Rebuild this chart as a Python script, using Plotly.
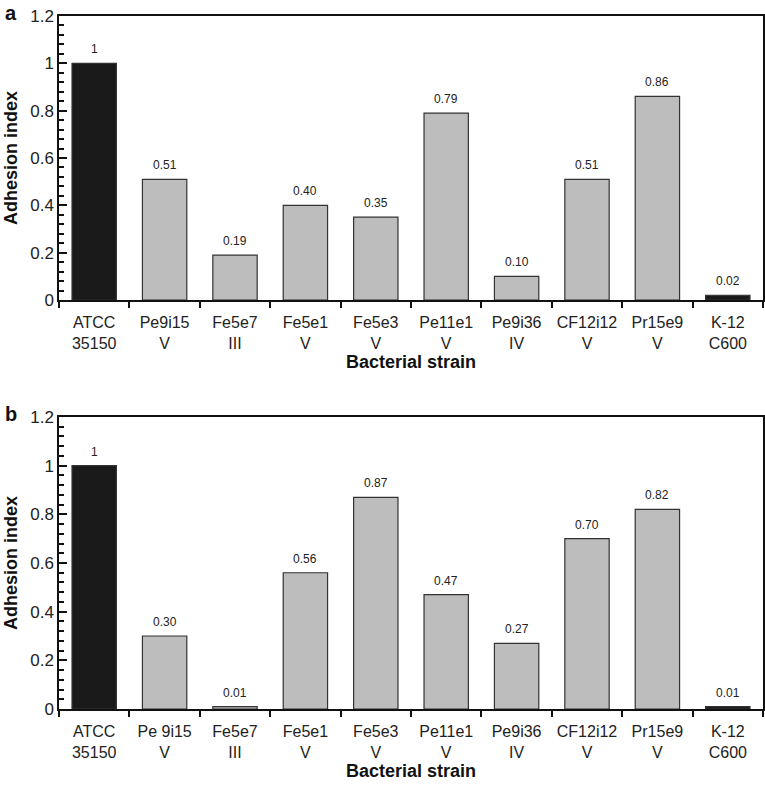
import plotly.graph_objects as go

strains_a = ["ATCC<br>35150", "Pe9i15<br>V", "Fe5e7<br>III", "Fe5e1<br>V", "Fe5e3<br>V",
             "Pe11e1<br>V", "Pe9i36<br>IV", "CF12i12<br>V", "Pr15e9<br>V", "K-12<br>C600"]
strains_b = ["ATCC<br>35150", "Pe 9i15<br>V", "Fe5e7<br>III", "Fe5e1<br>V", "Fe5e3<br>V",
             "Pe11e1<br>V", "Pe9i36<br>IV", "CF12i12<br>V", "Pr15e9<br>V", "K-12<br>C600"]
values_a = [1, 0.51, 0.19, 0.40, 0.35, 0.79, 0.10, 0.51, 0.86, 0.02]
values_b = [1, 0.30, 0.01, 0.56, 0.87, 0.47, 0.27, 0.70, 0.82, 0.01]
labels_a = ["1", "0.51", "0.19", "0.40", "0.35", "0.79", "0.10", "0.51", "0.86", "0.02"]
labels_b = ["1", "0.30", "0.01", "0.56", "0.87", "0.47", "0.27", "0.70", "0.82", "0.01"]
controls = ["ATCC<br>35150", "K-12<br>C600"]

BLACK = "#1a1a1a"
GRAY = "#bdbdbd"
FONT = "Liberation Sans, Arial, sans-serif"

def colors(cats):
    return [BLACK if c in controls else GRAY for c in cats]

fig = go.Figure()
for vals, cats, xa, ya in [(values_a, strains_a, "x", "y"), (values_b, strains_b, "x2", "y2")]:
    fig.add_trace(go.Bar(x=cats, y=vals,
                         marker=dict(color=colors(cats), line=dict(color="#333", width=1.2)),
                         width=0.63, xaxis=xa, yaxis=ya, showlegend=False, hoverinfo="y"))

for vals, labs, cats, xa, ya in [(values_a, labels_a, strains_a, "x", "y"),
                                 (values_b, labels_b, strains_b, "x2", "y2")]:
    for c, v, t in zip(cats, vals, labs):
        fig.add_annotation(x=c, y=v, xref=xa, yref=ya, text=t, showarrow=False,
                           yanchor="bottom", yshift=5, font=dict(size=12, family=FONT, color="#222"))

W, H = 765, 786
L, R, T, B = 59, 2, 16, 77
plot_h = H - T - B
plot_w = W - L - R
dom_a = [(709 - 300) / plot_h, 1]
dom_b = [0, (709 - 417) / plot_h]

def xaxis(anchor, cats):
    return dict(anchor=anchor, type="category", range=[-0.5, 9.5], automargin=False,
                showline=True, mirror=True, linecolor="#111", linewidth=1.5,
                ticks="outside", tickson="boundaries", ticklen=6, tickwidth=2, tickcolor="#111",
                ticklabelstandoff=7, tickangle=0,
                showgrid=False, zeroline=False,
                tickfont=dict(size=16, family=FONT, color="#222"),
                title=dict(text="<b>Bacterial strain</b>", font=dict(size=18, family=FONT, color="#111"),
                           standoff=2))

def yaxis(anchor, dom):
    return dict(anchor=anchor, domain=dom, range=[0, 1.2], dtick=0.2, tick0=0, automargin=False,
                showline=True, mirror=True, linecolor="#111", linewidth=1.5,
                ticks="inside", ticklen=8, tickcolor="#111", tickwidth=2,
                minor=dict(dtick=0.04, ticks="inside", ticklen=5, tickcolor="#111", tickwidth=1.5),
                ticklabeloverflow="allow",
                showgrid=False, zeroline=False,
                tickfont=dict(size=17, family=FONT, color="#222"))

fig.update_layout(
    width=W, height=H,
    margin=dict(l=L, r=R, t=T, b=B),
    paper_bgcolor="white", plot_bgcolor="white",
    font=dict(family=FONT),
    xaxis=xaxis("y", strains_a),
    yaxis=yaxis("x", dom_a),
    xaxis2=xaxis("y2", strains_b),
    yaxis2=yaxis("x2", dom_b),
)

for dom in (dom_a, dom_b):
    fig.add_annotation(text="<b>Adhesion index</b>", textangle=-90, x=(11 - L) / plot_w,
                       y=(dom[0] + dom[1]) / 2, xref="paper", yref="paper", showarrow=False,
                       xanchor="center", yanchor="middle", font=dict(size=18, family=FONT, color="#111"))

fig.add_annotation(text="<b>a</b>", x=(3 - L) / plot_w, y=1 + 16 / plot_h, xref="paper", yref="paper",
                   showarrow=False, xanchor="left", yanchor="top", font=dict(size=20, family=FONT, color="#111"))
fig.add_annotation(text="<b>b</b>", x=(3 - L) / plot_w, y=(709 - 401) / plot_h, xref="paper", yref="paper",
                   showarrow=False, xanchor="left", yanchor="top", font=dict(size=20, family=FONT, color="#111"))

fig.write_html("out.html", config={"displayModeBar": False},
               post_script="document.body.style.margin='0px';")
